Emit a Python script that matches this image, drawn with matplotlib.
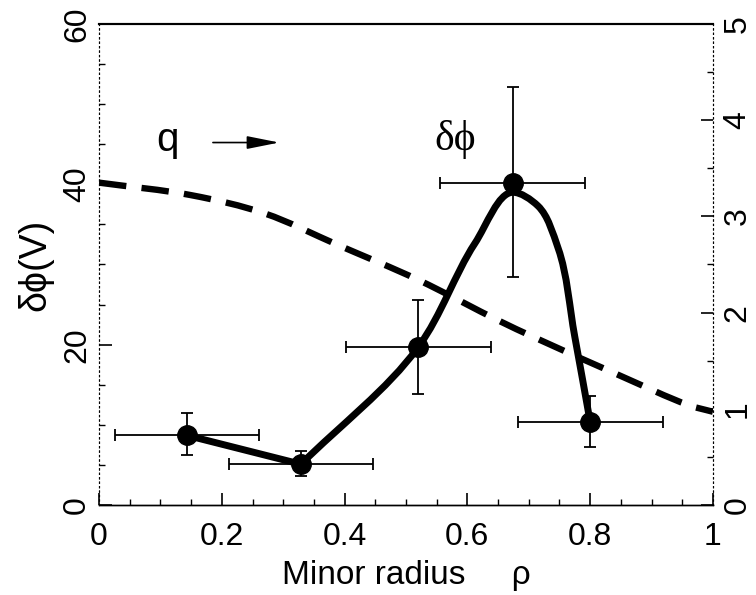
import matplotlib
matplotlib.use("Agg")
import matplotlib.pyplot as plt
import numpy as np
from matplotlib.ticker import MultipleLocator
from matplotlib.path import Path
from matplotlib.patches import PathPatch

# measured data
rho = [0.143, 0.329, 0.520, 0.674, 0.800]
dphi = [8.7, 5.1, 19.7, 40.2, 10.4]
dphi_err_lo = [2.5, 1.5, 5.9, 11.7, 3.2]
dphi_err_hi = [2.8, 1.6, 5.9, 11.9, 3.2]
rho_err = [0.117, 0.117, 0.118, 0.118, 0.118]

# smooth fit curve through the data, two pieces joined at the minimum
fit1_rho = [0.143, 0.329]
fit1_dphi = [8.7, 5.1]
fit2_rho = [0.329, 0.520, 0.612, 0.674, 0.715, 0.748, 0.775, 0.800]
fit2_dphi = [5.1, 19.7, 32.6, 39.0, 37.3, 32.0, 21.0, 10.4]

# q profile (right axis)
q_rho = [0.0, 0.15, 0.27, 0.39, 0.52, 0.65, 0.71, 0.84, 0.96, 1.0]
q_val = [3.35, 3.22, 3.03, 2.70, 2.34, 1.92, 1.74, 1.37, 1.04, 0.97]

plt.rcParams['font.family'] = ['Liberation Sans', 'DejaVu Sans']


def smooth_path(xs, ys, sx, sy, alpha=0.5):
    """Centripetal Catmull-Rom through the given points, as cubic Bezier path."""
    P = np.column_stack([np.asarray(xs) * sx, np.asarray(ys) * sy])
    ext = np.vstack([2 * P[0] - P[1], P, 2 * P[-1] - P[-2]])
    verts = [tuple(P[0])]
    codes = [Path.MOVETO]
    for i in range(1, len(ext) - 2):
        p0, p1, p2, p3 = ext[i - 1], ext[i], ext[i + 1], ext[i + 2]
        d1 = max(np.linalg.norm(p1 - p0) ** alpha, 1e-6)
        d2 = max(np.linalg.norm(p2 - p1) ** alpha, 1e-6)
        d3 = max(np.linalg.norm(p3 - p2) ** alpha, 1e-6)
        b1 = (d1 ** 2 * p2 - d2 ** 2 * p0 + (2 * d1 ** 2 + 3 * d1 * d2 + d2 ** 2) * p1) / (3 * d1 * (d1 + d2))
        b2 = (d3 ** 2 * p1 - d2 ** 2 * p3 + (2 * d3 ** 2 + 3 * d3 * d2 + d2 ** 2) * p2) / (3 * d3 * (d3 + d2))
        verts += [tuple(b1), tuple(b2), tuple(p2)]
        codes += [Path.CURVE4] * 3
    V = np.array(verts)
    V[:, 0] /= sx
    V[:, 1] /= sy
    return Path(V, codes)


fig = plt.figure(figsize=(7.56, 5.95), dpi=100)
ax = fig.add_axes([0.131, 0.151, 0.812, 0.809])
ax2 = ax.twinx()

ax.set_xlim(0, 1)
ax.set_ylim(0, 60)
ax2.set_ylim(0, 5)

ax2.add_patch(PathPatch(smooth_path(q_rho, q_val, 614, 96.2), fill=False, color='black',
                        lw=4.6, linestyle=(0, (4.3, 2.4)), capstyle='butt'))

ax.plot(fit1_rho, fit1_dphi, color='black', lw=5, solid_capstyle='round', zorder=4)
ax.add_patch(PathPatch(smooth_path(fit2_rho, fit2_dphi, 614, 8.017, alpha=0.8), fill=False,
                       color='black', lw=5, joinstyle='round', capstyle='round', zorder=4))
ax.errorbar(rho, dphi, yerr=[dphi_err_lo, dphi_err_hi], xerr=rho_err, fmt='o', color='black',
            ms=14, elinewidth=1.3, capsize=4, capthick=1.3, zorder=5)

ax.set_xticks([0, 0.2, 0.4, 0.6, 0.8, 1])
ax.set_xticklabels(['0', '0.2', '0.4', '0.6', '0.8', '1'])
ax.set_yticks([0, 20, 40, 60])
ax2.set_yticks([0, 1, 2, 3, 4, 5])
ax.yaxis.set_minor_locator(MultipleLocator(5))
ax2.yaxis.set_minor_locator(MultipleLocator(0.5))
ax.xaxis.set_minor_locator(MultipleLocator(0.05))

ax.tick_params(axis='both', which='major', direction='in', length=9, width=1.2, labelsize=23)
ax.tick_params(axis='x', which='major', pad=12)
ax.tick_params(axis='y', which='major', pad=5)
ax.tick_params(axis='both', which='minor', direction='in', length=4, width=1)
ax.tick_params(axis='x', which='both', top=False)
ax.tick_params(axis='y', which='both', right=False)
ax2.tick_params(axis='y', which='major', direction='in', length=9, width=1.2, labelsize=23, pad=7)
ax2.tick_params(axis='y', which='minor', direction='in', length=4, width=1)
for lab in ax.get_yticklabels():
    lab.set_rotation(90)
    lab.set_va('center')
for lab in ax2.get_yticklabels():
    lab.set_rotation(90)
    lab.set_va('center')

for a in (ax, ax2):
    a.spines['left'].set_linestyle((0, (1, 3)))
    a.spines['right'].set_linestyle((0, (1, 3)))
    a.spines['top'].set_linewidth(1.5)
    a.spines['bottom'].set_linewidth(1.0)

ax.set_xlabel('Minor radius     ρ', fontsize=24, labelpad=6)
ax.set_ylabel('δϕ(V)', fontsize=27, labelpad=6)

ax.text(0.112, 45.5, 'q', fontsize=29, ha='center', va='center')
ax.annotate('', xy=(0.298, 45.2), xytext=(0.181, 45.2),
            arrowprops=dict(arrowstyle='-|>,head_length=0.9,head_width=0.18', color='black',
                            lw=1.2, mutation_scale=22))
ax.text(0.547, 45.6, 'δϕ', fontsize=30, family=['Liberation Serif', 'DejaVu Serif'],
        ha='left', va='center')

fig.savefig('out.png', dpi=100)
